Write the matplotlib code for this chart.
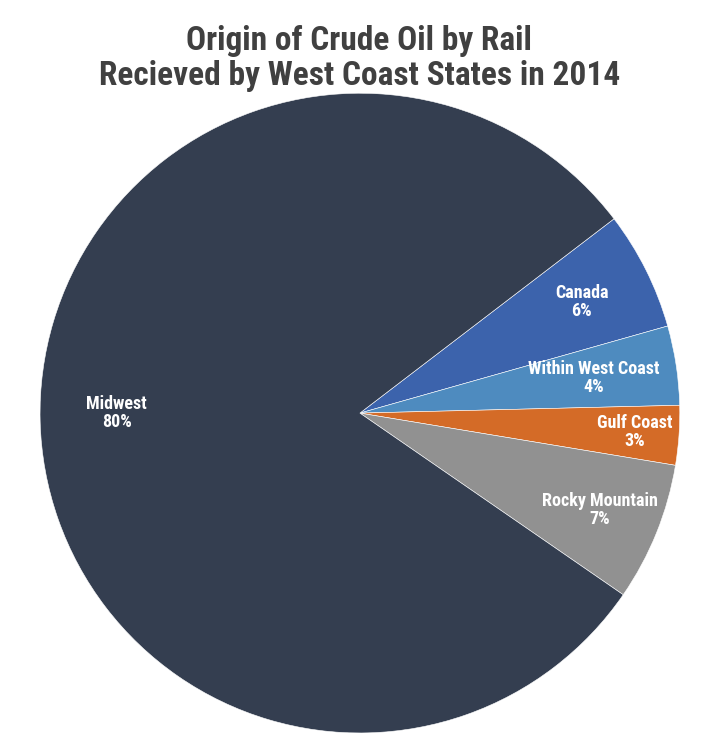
import matplotlib
matplotlib.use('Agg')
import numpy as np
import matplotlib.pyplot as plt

labels = ['Canada', 'Within West Coast', 'Gulf Coast', 'Rocky Mountain', 'Midwest']
shares = [6, 4, 3, 7, 80]
colors = ['#3c63ac', '#4e8bbf', '#d46b27', '#919191', '#343e50']
# how far out each label sits (fraction of radius)
label_r = [0.775, 0.74, 0.86, 0.81, 0.76]

plt.rcParams['font.family'] = ['Roboto Condensed', 'DejaVu Sans']

fig = plt.figure(figsize=(7.23, 7.5), dpi=100)
ax = fig.add_axes([0.0553, 0.0227, 0.885, 0.853])
wedges, _ = ax.pie(shares, colors=colors, startangle=37.4, counterclock=False,
                   wedgeprops=dict(edgecolor='white', linewidth=0.4))
ax.set_xlim(-1, 1)
ax.set_ylim(-1, 1)
ax.set_aspect('equal')

for w, lab, val, r in zip(wedges, labels, shares, label_r):
    mid = np.deg2rad((w.theta1 + w.theta2) / 2)
    if lab == 'Midwest':
        mid = np.pi
    ax.text(r * np.cos(mid), r * np.sin(mid), f'{lab}\n{val}%', ha='center', va='center',
            color='white', fontsize=13, fontweight='bold', linespacing=1.0)

title_lines = ['Origin of Crude Oil by Rail', 'Recieved by West Coast States in 2014']
for line, yb in zip(title_lines, [0.9333, 0.8867]):
    fig.text(0.497, yb, line, ha='center', va='baseline', fontsize=24,
             fontweight='bold', color='#404040')

fig.savefig('out.png', dpi=100)
